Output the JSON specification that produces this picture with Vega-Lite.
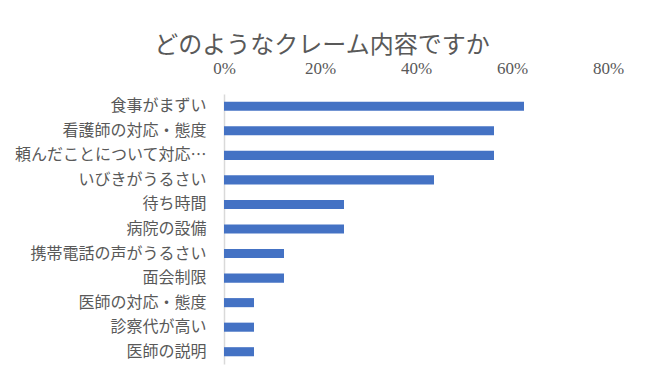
{
  "$schema": "https://vega.github.io/schema/vega-lite/v6.json",
  "width": 384,
  "height": 270,
  "autosize": {"type": "none"},
  "padding": {"left": 224, "top": 94, "right": 37, "bottom": 27},
  "background": "white",
  "config": {"view": {"stroke": null}},
  "title": {
    "text": "どのようなクレーム内容ですか",
    "font": "Noto Sans CJK JP",
    "fontSize": 24,
    "fontWeight": "normal",
    "color": "#595959",
    "anchor": "middle",
    "dx": -94,
    "offset": 1
  },
  "data": {
    "values": [
      {"item": "食事がまずい", "value": 0.625},
      {"item": "看護師の対応・態度", "value": 0.5625},
      {"item": "頼んだことについて対応…", "value": 0.5625},
      {"item": "いびきがうるさい", "value": 0.4375},
      {"item": "待ち時間", "value": 0.25},
      {"item": "病院の設備", "value": 0.25},
      {"item": "携帯電話の声がうるさい", "value": 0.125},
      {"item": "面会制限", "value": 0.125},
      {"item": "医師の対応・態度", "value": 0.0625},
      {"item": "診察代が高い", "value": 0.0625},
      {"item": "医師の説明", "value": 0.0625}
    ]
  },
  "mark": {"type": "bar", "color": "#4472C4"},
  "encoding": {
    "y": {
      "field": "item",
      "type": "nominal",
      "sort": null,
      "scale": {"paddingInner": 0.63, "paddingOuter": 0.315},
      "axis": {
        "title": null,
        "ticks": false,
        "domain": true,
        "domainColor": "#d9d9d9",
        "domainWidth": 1.5,
        "labelFont": "Noto Sans CJK JP",
        "labelFontSize": 16,
        "labelColor": "#595959",
        "labelPadding": 18,
        "labelLimit": 300
      }
    },
    "x": {
      "field": "value",
      "type": "quantitative",
      "scale": {"domain": [0, 0.8], "nice": false},
      "axis": {
        "orient": "top",
        "title": null,
        "format": ".0%",
        "values": [0, 0.2, 0.4, 0.6, 0.8],
        "grid": false,
        "ticks": false,
        "domain": false,
        "labelFont": "Liberation Serif",
        "labelFontSize": 17,
        "labelColor": "#595959",
        "labelPadding": 17,
        "labelFlush": false
      }
    }
  }
}
